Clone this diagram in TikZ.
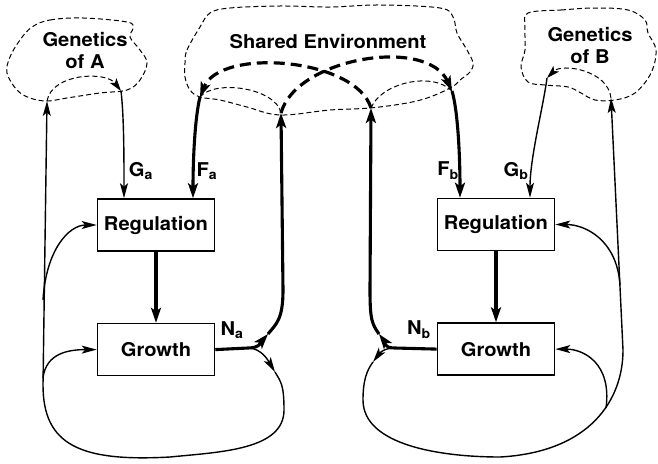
\documentclass[tikz,border=0pt]{standalone}
\usepackage{fontspec}
\setmainfont{TeX Gyre Heros}[FakeStretch=1.06]
\usetikzlibrary{arrows.meta,positioning}
\newcommand\lblfont{\fontsize{19}{22}\selectfont\bfseries}

\begin{document}
\begin{tikzpicture}[
  x=1pt,y=-1pt,
  box/.style={rectangle,draw,line width=1.6pt,minimum width=117pt,minimum height=52pt,inner sep=0pt,font=\lblfont},
  lab/.style={font=\lblfont,inner sep=0pt,align=center},
  a/.style={-{Stealth[length=15pt,width=8pt,inset=3.5pt]},line width=1.4pt},
  ta/.style={-{Stealth[length=15pt,width=10pt,inset=3.5pt]},line width=3.1pt},
  cl/.style={dash pattern=on 5pt off 3pt,line width=1pt},
  da/.style={cl,-{Stealth[length=13pt,width=8pt,inset=3pt]}},
  tda/.style={dash pattern=on 11pt off 6pt,line width=3.2pt,-{Stealth[length=15pt,width=10pt,inset=3.5pt]}}
]
\useasboundingbox (0,0) rectangle (658,463);

% clouds
\draw[cl] plot[smooth cycle,tension=0.6] coordinates {(32,27) (50,20) (83,18) (127,22) (133,28) (130,37) (140,50) (147,63) (140,80) (127,90) (100,93) (67,98) (47,101) (30,98) (17,90) (7,73) (10,57) (20,40)};
\draw[cl] plot[smooth cycle,tension=0.6] coordinates {(185,63) (187,50) (200,27) (210,13) (230,8) (280,6) (330,7) (380,5) (440,8) (453,17) (457,33) (467,50) (473,63) (470,72) (460,80) (452,87) (430,97) (407,103) (370,108) (330,110) (280,115) (247,107) (220,100) (200,97) (190,90) (185,77)};
\draw[cl] plot[smooth cycle,tension=0.6] coordinates {(528,13) (561,10) (595,8) (628,10) (645,20) (648,33) (656,50) (651,73) (635,93) (615,100) (595,100) (581,93) (568,87) (545,85) (528,82) (521,67) (525,50) (525,27)};

\node[lab] (genA) at (85,51) {Genetics\\of A};
\node[lab] (shared) at (328,42) {Shared Environment};
\node[lab] (genB) at (590,46) {Genetics\\of B};

% boxes
\node[box] (regA) at (156,225) {Regulation};
\node[box,below=71pt of regA] (growA) {Growth};
\node[box] (regB) at (496,224.5) {Regulation};
\node[box,below=71pt of regB] (growB) {Growth};

% points on the paths
\coordinate (inA) at (47,101);
\coordinate (outA) at (121,91);
\coordinate (inB) at (611,98);
\coordinate (outB) at (547,78);
\coordinate (inSa) at (281,113);
\coordinate (outSa) at (200,97);
\coordinate (inSb) at (371,108);
\coordinate (outSb) at (452,91);
\coordinate (splitA) at (248,348);
\coordinate (midA) at (268,334);
\coordinate (upA) at (283,290);
\coordinate (loopA) at (275,372);
\coordinate (rA) at (284,410);
\coordinate (botA) at (170,457);
\coordinate (lA) at (43,385);
\coordinate (jA1) at (43,300);
\coordinate (jA2) at (43,378);
\coordinate (splitB) at (395,348);
\coordinate (midB) at (379,334);
\coordinate (upB) at (370,290);
\coordinate (loopB) at (373,362);
\coordinate (lB) at (363,400);
\coordinate (botB) at (500,457);
\coordinate (rB) at (623,350);
\coordinate (jB1) at (620,285);
\coordinate (jB2) at (606,408);

% inside the clouds
\draw[da] (inA) .. controls +(5,-28) and +(-15,-20) .. (outA);
\draw[da] (inB) .. controls +(-3,-28) and +(15,-15) .. (outB);
\draw[cl] (outSa) .. controls +(15,-18) and +(-5,-25) .. (inSa);
\draw[cl] (inSb) .. controls +(10,-25) and +(-20,-20) .. (outSb);
\draw[tda] (inSa) .. controls +(15,-55) and +(-25,-55) .. (outSb);
\draw[tda] (inSb) .. controls +(-15,-50) and +(20,-50) .. (outSa);

% into regulation
\draw[a] (outA) .. controls +(3,25) and +(0,-40) .. ([xshift=-32pt]regA.north);
\draw[ta] (outSa) .. controls +(-5,20) and +(0,-40) .. ([xshift=37pt]regA.north);
\draw[ta] (outSb) .. controls +(6,20) and +(0,-40) .. ([xshift=-36pt]regB.north);
\draw[a] (outB) .. controls +(-4,30) and +(0,-40) .. ([xshift=34pt]regB.north);
\draw[ta] (regA) -- (growA);
\draw[ta] (regB) -- (growB);

% A side
\draw[ta] (growA.east) -- (splitA) .. controls +(12,0) and +(-7,8) .. (midA);
\draw[ta] (midA) .. controls +(8,-10) and +(0,30) .. (upA) -- (inSa);
\draw[a] (splitA) .. controls +(14,0) and +(-6,-10) .. (loopA);
\draw[a] (loopA) .. controls +(6,10) and +(0,-25) .. (rA) .. controls +(0,40) and +(50,-5) .. (botA) .. controls +(-90,5) and +(0,60) .. (lA) -- (inA);
\draw[a] (jA1) .. controls +(3,-50) and +(-28,0) .. (regA.west);
\draw[a] (jA2) .. controls +(3,-25) and +(-28,0) .. (growA.west);

% B side
\draw[ta] (growB.west) -- (splitB) .. controls +(-12,0) and +(6,8) .. (midB);
\draw[ta] (midB) .. controls +(-7,-10) and +(0,30) .. (upB) -- (inSb);
\draw[a] (splitB) .. controls +(-12,0) and +(6,-8) .. (loopB);
\draw[a] (loopB) .. controls +(-6,8) and +(0,-20) .. (lB) .. controls +(0,45) and +(-60,0) .. (botB) .. controls +(90,-5) and +(0,50) .. (rB) -- (inB);
\draw[a] (jB1) .. controls +(-3,-45) and +(30,0) .. (regB.east);
\draw[a] (jB2) .. controls +(6,-45) and +(28,0) .. (growB.east);

% labels
\node[lab] (lGa) at (141,171) {G\textsubscript{a}};
\node[lab] (lFa) at (207,171) {F\textsubscript{a}};
\node[lab] (lFb) at (448,171) {F\textsubscript{b}};
\node[lab] (lGb) at (516,171) {G\textsubscript{b}};
\node[lab] (lNa) at (232,330) {N\textsubscript{a}};
\node[lab] (lNb) at (419,330) {N\textsubscript{b}};
\end{tikzpicture}
\end{document}
